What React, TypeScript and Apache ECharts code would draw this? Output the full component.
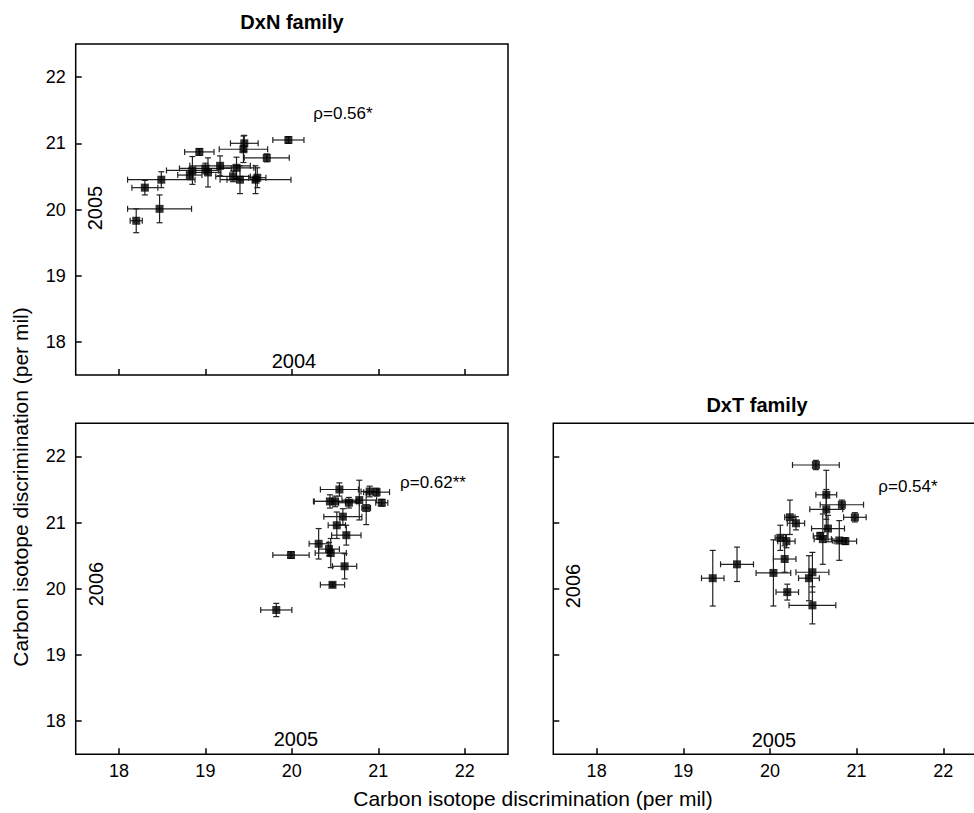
import React, { useEffect, useRef } from "react";
import * as echarts from "echarts";

// Panel 1: DxN family, 2004 (x) vs 2005 (y)
const p1X = [18.2, 18.3, 18.47, 18.49, 18.85, 18.82, 18.93, 19.0, 19.03, 19.17, 19.36, 19.32, 19.4, 19.45, 19.44, 19.71, 19.96, 19.58, 19.6];
const p1Y = [19.83, 20.33, 20.01, 20.45, 20.59, 20.52, 20.87, 20.62, 20.56, 20.66, 20.63, 20.5, 20.45, 21.0, 20.91, 20.78, 21.05, 20.45, 20.48];
const p1XErr = [0.07, 0.15, 0.37, 0.39, 0.3, 0.14, 0.17, 0.3, 0.15, 0.35, 0.2, 0.2, 0.15, 0.16, 0.28, 0.26, 0.18, 0.41, 0.1];
const p1YErr = [0.18, 0.11, 0.21, 0.12, 0.21, 0.07, 0.05, 0.08, 0.22, 0.15, 0.16, 0.08, 0.21, 0.12, 0.2, 0.06, 0.05, 0.21, 0.15];

// Panel 2: DxN family, 2005 (x) vs 2006 (y)
const p2X = [19.99, 20.31, 20.43, 20.45, 20.61, 20.63, 20.52, 20.59, 20.55, 20.44, 20.5, 20.66, 20.78, 20.86, 20.9, 20.98, 21.04, 19.82, 20.47];
const p2Y = [20.51, 20.68, 20.6, 20.54, 20.34, 20.81, 20.96, 21.09, 21.5, 21.32, 21.32, 21.3, 21.34, 21.22, 21.47, 21.46, 21.3, 19.68, 20.06];
const p2XErr = [0.21, 0.11, 0.12, 0.18, 0.14, 0.17, 0.1, 0.22, 0.22, 0.18, 0.25, 0.12, 0.2, 0.05, 0.1, 0.15, 0.07, 0.18, 0.14];
const p2YErr = [0.05, 0.23, 0.1, 0.22, 0.19, 0.15, 0.2, 0.12, 0.1, 0.1, 0.08, 0.08, 0.3, 0.25, 0.08, 0.06, 0.05, 0.1, 0.03];

// Panel 3: DxT family, 2005 (x) vs 2006 (y)
const p3X = [20.53, 20.65, 20.83, 20.65, 20.98, 20.23, 20.3, 20.67, 20.58, 20.61, 20.8, 20.87, 20.12, 20.19, 19.34, 19.62, 20.04, 20.17, 20.2, 20.49, 20.45, 20.49];
const p3Y = [21.87, 21.42, 21.27, 21.2, 21.08, 21.08, 20.99, 20.91, 20.8, 20.75, 20.73, 20.72, 20.77, 20.72, 20.16, 20.37, 20.24, 20.45, 19.95, 20.25, 20.16, 19.75];
const p3XErr = [0.27, 0.12, 0.25, 0.19, 0.13, 0.06, 0.1, 0.19, 0.08, 0.1, 0.08, 0.13, 0.06, 0.1, 0.13, 0.19, 0.2, 0.13, 0.13, 0.19, 0.12, 0.27];
const p3YErr = [0.07, 0.37, 0.07, 0.3, 0.07, 0.26, 0.1, 0.2, 0.05, 0.38, 0.3, 0.05, 0.19, 0.1, 0.42, 0.26, 0.5, 0.2, 0.12, 0.3, 0.34, 0.28];

const tickValues = [18, 19, 20, 21, 22];
const axisMin = 17.5;
const axisMax = 22.5;

const panelTitles = ["DxN family", "DxT family"];
const rhoLabels = ["\u03c1=0.56*", "\u03c1=0.62**", "\u03c1=0.54*"];
const xYearLabels = ["2004", "2005", "2005"];
const yYearLabels = ["2005", "2006", "2006"];
const axisTitle = "Carbon isotope discrimination (per mil)";

const FONT = "'Liberation Sans', Arial, sans-serif";

const panels = [
  { x: p1X, y: p1Y, xe: p1XErr, ye: p1YErr },
  { x: p2X, y: p2Y, xe: p2XErr, ye: p2YErr },
  { x: p3X, y: p3Y, xe: p3XErr, ye: p3YErr },
];

const grids = [
  { left: 75.7, top: 44, width: 432.3, height: 331 },
  { left: 75.7, top: 423.3, width: 432.3, height: 331 },
  { left: 553.3, top: 423.3, width: 433.3, height: 331 },
];

function errRender(params: any, api: any) {
  const x = api.value(0);
  const y = api.value(1);
  const xe = api.value(2);
  const ye = api.value(3);
  const l = api.coord([x - xe, y]);
  const r = api.coord([x + xe, y]);
  const t = api.coord([x, y + ye]);
  const b = api.coord([x, y - ye]);
  const cap = 3;
  const style = { stroke: "#222", lineWidth: 1.2 };
  const ln = (x1: number, y1: number, x2: number, y2: number) => ({
    type: "line",
    shape: { x1, y1, x2, y2 },
    style,
  });
  return {
    type: "group",
    children: [
      ln(l[0], l[1], r[0], r[1]),
      ln(l[0], l[1] - cap, l[0], l[1] + cap),
      ln(r[0], r[1] - cap, r[0], r[1] + cap),
      ln(t[0], t[1], b[0], b[1]),
      ln(t[0] - cap, t[1], t[0] + cap, t[1]),
      ln(b[0] - cap, b[1], b[0] + cap, b[1]),
    ],
  };
}

export default function App() {
  const ref = useRef<HTMLDivElement>(null);
  useEffect(() => {
    if (!ref.current) return;
    const chart = echarts.init(ref.current, undefined, { renderer: "svg" });

    const xAxes = grids.map((_, i) => ({
      type: "value",
      gridIndex: i,
      min: axisMin,
      max: axisMax,
      axisLine: { show: false },
      splitLine: { show: false },
      axisTick: {
        show: true,
        inside: true,
        length: 6,
        customValues: tickValues,
        lineStyle: { color: "#000", width: 1.5 },
      },
      axisLabel: {
        show: i > 0,
        customValues: tickValues,
        margin: 8,
        fontSize: 18,
        color: "#000",
        fontFamily: FONT,
      },
    }));
    const yAxes = grids.map((_, i) => ({
      type: "value",
      gridIndex: i,
      min: axisMin,
      max: axisMax,
      axisLine: { show: false },
      splitLine: { show: false },
      axisTick: {
        show: true,
        inside: true,
        length: 6,
        customValues: tickValues,
        lineStyle: { color: "#000", width: 1.5 },
      },
      axisLabel: {
        show: i < 2,
        customValues: tickValues,
        margin: 10,
        fontSize: 18,
        color: "#000",
        fontFamily: FONT,
      },
    }));

    const series: any[] = [];
    panels.forEach((p, i) => {
      series.push({
        type: "custom",
        xAxisIndex: i,
        yAxisIndex: i,
        renderItem: errRender,
        encode: { x: 0, y: 1 },
        data: p.x.map((v, k) => [v, p.y[k], p.xe[k], p.ye[k]]),
        silent: true,
        z: 2,
      });
      series.push({
        type: "scatter",
        xAxisIndex: i,
        yAxisIndex: i,
        symbol: "rect",
        symbolSize: 8,
        itemStyle: { color: "#000" },
        data: p.x.map((v, k) => [v, p.y[k]]),
        z: 3,
      });
    });

    const txt = (text: string, x: number, y: number, size: number, bold = false, rotation = 0) => ({
      type: "text",
      x,
      y,
      rotation,
      style: {
        text,
        fill: "#000",
        font: `${bold ? "bold " : ""}${size}px ${FONT}`,
        textAlign: "center",
        textVerticalAlign: "middle",
      },
    });
    const R = Math.PI / 2;

    const graphic: any[] = [
      txt(panelTitles[0], 292, 22, 20, true),
      txt(panelTitles[1], 757, 405, 20, true),
      txt(rhoLabels[0], 343, 113, 17),
      txt(rhoLabels[1], 433, 482, 17),
      txt(rhoLabels[2], 908, 486, 17),
      txt(xYearLabels[0], 294, 361, 20),
      txt(xYearLabels[1], 296, 739, 20),
      txt(xYearLabels[2], 774, 740, 20),
      txt(yYearLabels[0], 95, 208, 20, false, R),
      txt(yYearLabels[1], 96, 584, 20, false, R),
      txt(yYearLabels[2], 573, 586, 20, false, R),
      txt(axisTitle, 533, 798, 21),
      txt(axisTitle, 20, 487, 21, false, R),
    ];

    chart.setOption({
      animation: false,
      textStyle: { fontFamily: FONT },
      grid: grids.map((g) => ({
        ...g,
        show: true,
        borderColor: "#000",
        borderWidth: 1.5,
        backgroundColor: "transparent",
      })),
      xAxis: xAxes,
      yAxis: yAxes,
      series,
      graphic,
    });
    return () => chart.dispose();
  }, []);

  return (
    <div
      style={{ position: "fixed", left: 0, top: 0, width: 974, height: 813, overflow: "hidden", background: "#fff" }}
    >
      <div ref={ref} style={{ width: 1000, height: 813 }} />
    </div>
  );
}
